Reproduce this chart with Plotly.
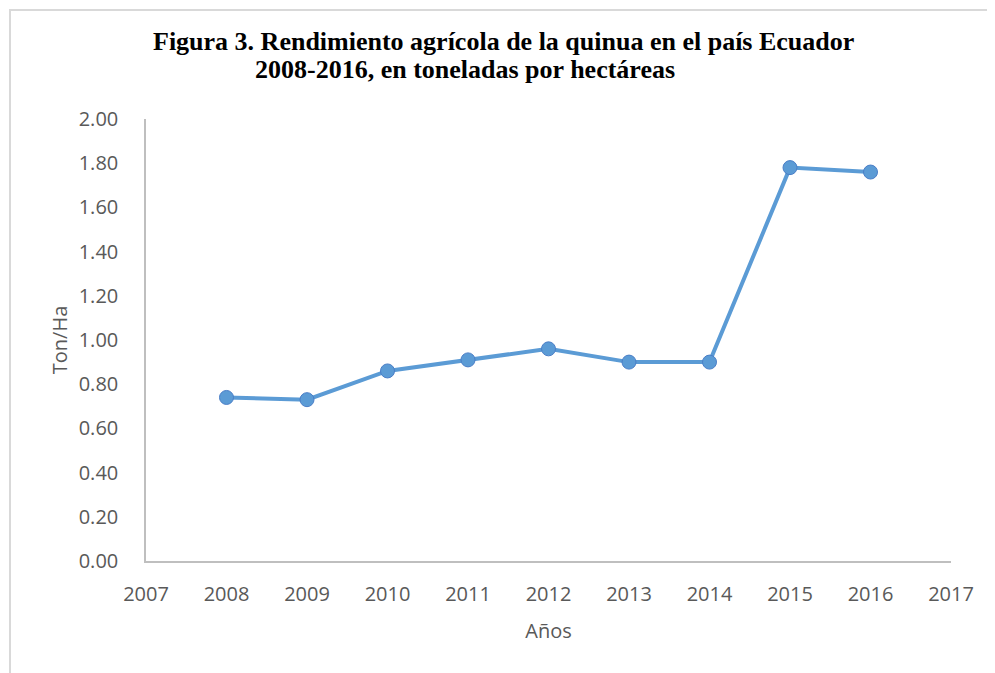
import plotly.graph_objects as go

# Rendimiento de la quinua, Ecuador (Ton/Ha)
years = [2008, 2009, 2010, 2011, 2012, 2013, 2014, 2015, 2016]
yield_ton_ha = [0.74, 0.73, 0.86, 0.91, 0.96, 0.90, 0.90, 1.78, 1.76]
y_ticks = [0.0, 0.2, 0.4, 0.6, 0.8, 1.0, 1.2, 1.4, 1.6, 1.8, 2.0]
x_ticks = list(range(2007, 2018))

title_line1 = "Figura 3. Rendimiento agrícola de la quinua en el país Ecuador"
title_line2 = "2008-2016, en toneladas por hectáreas"

OFF = 8  # page body margin
W, H = 995 - OFF, 673 - OFF
L, R, T, B = 146 - OFF, 44, 119 - OFF, 112
plot_w = W - L - R
plot_h = H - T - B

tick_font = dict(family="Open Sans, Liberation Sans, sans-serif", size=20, color="#595959")

fig = go.Figure()
fig.add_trace(go.Scatter(
    x=years, y=yield_ton_ha, mode="lines+markers",
    line=dict(color="#5B9BD5", width=4),
    marker=dict(size=14, color="#5B9BD5", line=dict(color="#4A7EC7", width=1)),
    showlegend=False,
))

fig.update_layout(
    width=W, height=H,
    margin=dict(l=L, r=R, t=T, b=B),
    paper_bgcolor="white", plot_bgcolor="white",
    xaxis=dict(range=[2007, 2017], tickvals=x_ticks, ticktext=[str(v) for v in x_ticks],
               showgrid=False, zeroline=False, showline=True, linecolor="#BFBFBF", linewidth=1.5,
               ticks="outside", ticklen=14, tickcolor="rgba(0,0,0,0)", tickfont=tick_font,
               title=dict(text="Años", font=tick_font, standoff=18)),
    yaxis=dict(range=[0, 2], tickvals=y_ticks, ticktext=[f"{v:.2f}" for v in y_ticks],
               showgrid=False, zeroline=False, showline=True, linecolor="#BFBFBF", linewidth=1.5,
               ticks="outside", ticklen=22, tickcolor="rgba(0,0,0,0)", tickfont=tick_font,
               title=dict(text="Ton/Ha", font=tick_font, standoff=6)),
)

# title, two lines (second one shifted like in the original)
title_font = dict(family="Liberation Serif, Times New Roman, serif", size=26, color="black")
fig.add_annotation(text="<b>" + title_line1 + "</b>", xref="paper", yref="paper",
                   x=(503 - 146) / plot_w, y=(673 - 112 - 42) / plot_h, showarrow=False,
                   font=title_font, xanchor="center", yanchor="middle")
fig.add_annotation(text="<b>" + title_line2 + "</b>", xref="paper", yref="paper",
                   x=(465 - 146) / plot_w, y=(673 - 112 - 70) / plot_h, showarrow=False,
                   font=title_font, xanchor="center", yanchor="middle")

# light chart-area frame (top edge kept just inside the figure)
fig.add_shape(type="rect", xref="paper", yref="paper",
              x0=(10 - 146) / plot_w, x1=(995 + 20 - 146) / plot_w,
              y0=-0.5, y1=(673 - 112 - 10) / plot_h,
              line=dict(color="#D9D9D9", width=2), fillcolor="rgba(0,0,0,0)", layer="below")

fig.write_html("out.html")
